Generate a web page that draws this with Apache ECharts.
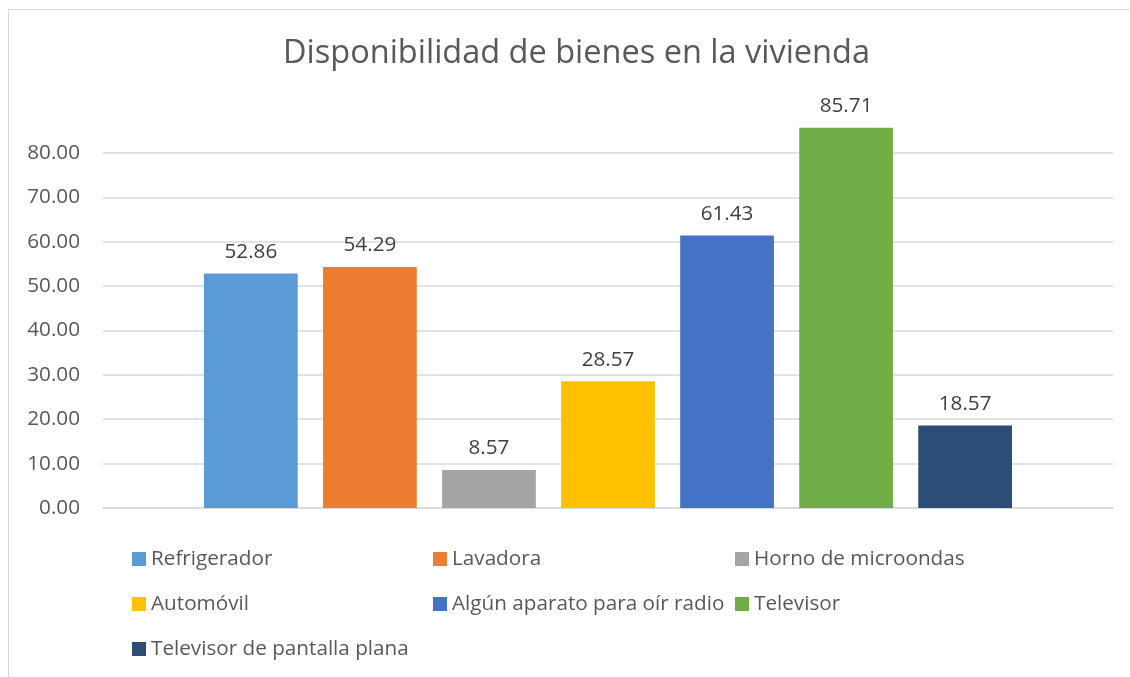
<!DOCTYPE html>
<html>
<head>
<meta charset="utf-8">
<script src="https://cdn.jsdelivr.net/npm/echarts@6/dist/echarts.min.js"></script>
<style>
  html, body { margin: 0; padding: 0; background: #fff; }
  #chart { position: absolute; left: 0; top: 0; width: 1130px; height: 677px; }
  #frame { position: absolute; left: 8px; top: 9px; width: 1130px; height: 677px;
           border-left: 1.5px solid #d9d9d9; border-top: 1.5px solid #d9d9d9; pointer-events: none; }
</style>
</head>
<body>
<div id="chart"></div>
<div id="frame"></div>
<script>
const title = 'Disponibilidad de bienes en la vivienda';
const seriesNames = ['Refrigerador', 'Lavadora', 'Horno de microondas', 'Automóvil',
                     'Algún aparato para oír radio', 'Televisor', 'Televisor de pantalla plana'];
const seriesValues = [52.86, 54.29, 8.57, 28.57, 61.43, 85.71, 18.57];
const seriesColors = ['#5B9BD5', '#ED7D31', '#A5A5A5', '#FFC000', '#4472C4', '#70AD47', '#2C4D75'];
const categories = [''];
const yTicks = { min: 0, max: 90, interval: 10 };

const FONT = 'Open Sans';
const TXT = '#595959';

const legendCols = [
  [seriesNames[0], seriesNames[3], seriesNames[6]],
  [seriesNames[1], seriesNames[4]],
  [seriesNames[2], seriesNames[5]]
];
const legendLeft = [132, 433, 735];

const chart = echarts.init(document.getElementById('chart'), null, { renderer: 'canvas' });
chart.setOption({
  animation: false,
  backgroundColor: '#fff',
  title: {
    text: title,
    left: 283,
    top: 37,
    padding: 0,
    textStyle: { fontFamily: FONT, fontSize: 32.5, fontWeight: 'normal', color: TXT }
  },
  legend: legendCols.map((col, i) => ({
    data: col,
    orient: 'vertical',
    left: legendLeft[i],
    top: 548,
    itemWidth: 14,
    itemHeight: 14,
    itemGap: 23,
    icon: 'rect',
    padding: 0,
    textStyle: { fontFamily: FONT, fontSize: 20.7, color: TXT, lineHeight: 22 }
  })),
  grid: { left: 103, right: 17, top: 108.6, bottom: 169 },
  xAxis: {
    type: 'category',
    data: categories,
    axisLine: { lineStyle: { color: '#d9d9d9', width: 1.5 } },
    axisTick: { show: false },
    axisLabel: { show: false }
  },
  yAxis: {
    type: 'value',
    min: yTicks.min,
    max: yTicks.max,
    interval: yTicks.interval,
    axisLine: { show: false },
    axisTick: { show: false },
    axisLabel: {
      showMaxLabel: false,
      margin: 23,
      fontFamily: FONT, fontSize: 20.7, color: TXT,
      formatter: v => v.toFixed(2)
    },
    splitLine: { showMaxLine: false, lineStyle: { color: '#d9d9d9', width: 1.5 } }
  },
  series: seriesNames.map((name, i) => ({
    name: name,
    type: 'bar',
    data: [seriesValues[i]],
    barCategoryGap: '20%',
    barGap: '27%',
    itemStyle: { color: seriesColors[i] },
    label: {
      show: true,
      position: 'top',
      distance: 11,
      fontFamily: FONT, fontSize: 20.7, color: '#404040',
      formatter: p => p.value.toFixed(2)
    }
  }))
});
</script>
</body>
</html>
